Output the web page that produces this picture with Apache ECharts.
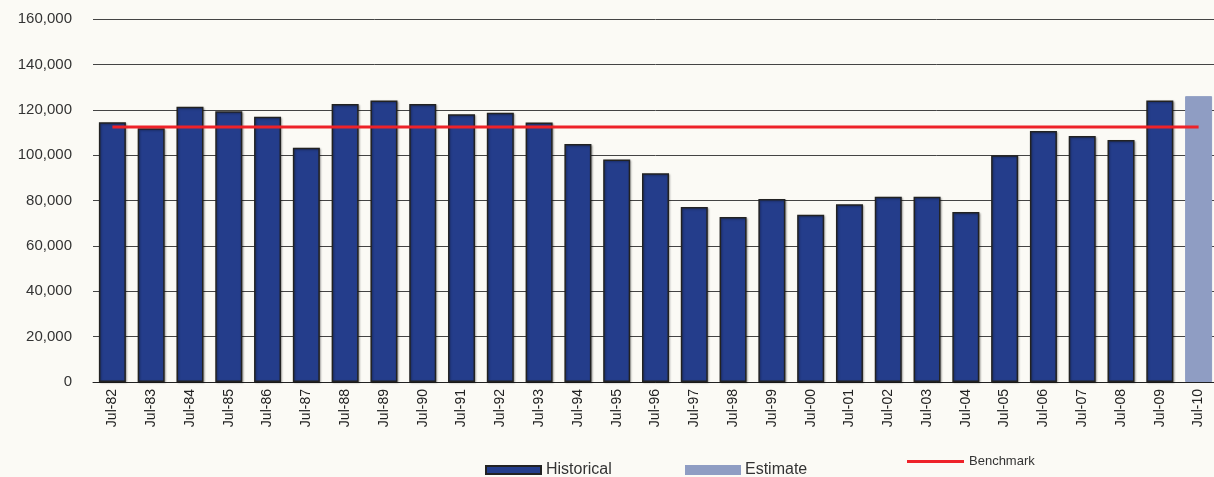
<!DOCTYPE html>
<html>
<head>
<meta charset="utf-8">
<script src="https://cdn.jsdelivr.net/npm/echarts@6/dist/echarts.min.js"></script>
<style>
  html, body { margin: 0; padding: 0; background: #fbfaf5; overflow: hidden; }
  /* the plot runs slightly past the right edge in the original, so the canvas is a bit wider */
  #chart { width: 1224px; height: 477px; }
</style>
</head>
<body>
<div id="chart"></div>
<script>
// categories
const years = ['Jul-82', 'Jul-83', 'Jul-84', 'Jul-85', 'Jul-86', 'Jul-87', 'Jul-88', 'Jul-89', 'Jul-90', 'Jul-91',
  'Jul-92', 'Jul-93', 'Jul-94', 'Jul-95', 'Jul-96', 'Jul-97', 'Jul-98', 'Jul-99', 'Jul-00', 'Jul-01',
  'Jul-02', 'Jul-03', 'Jul-04', 'Jul-05', 'Jul-06', 'Jul-07', 'Jul-08', 'Jul-09', 'Jul-10']
// historical values (last year is an estimate)
const historical = [114500, 111800, 121300, 119300, 116900, 103300, 122500, 124100, 122500, 118000,
  118700, 114400, 104900, 98100, 92000, 77100, 72700, 80700, 73700, 78400,
  81700, 81600, 74900, 99900, 110600, 108400, 106700, 124100, '-']
const estimate = ['-', '-', '-', '-', '-', '-', '-', '-', '-', '-',
  '-', '-', '-', '-', '-', '-', '-', '-', '-', '-',
  '-', '-', '-', '-', '-', '-', '-', '-', 126000]
const benchmarkValue = 112400
const benchmark = years.map(() => benchmarkValue)

const myChart = echarts.init(document.getElementById('chart'))
const option = {
  backgroundColor: '#fbfaf5',
  animation: false,
  textStyle: { fontFamily: 'Liberation Sans, Arial, sans-serif' },
  grid: { left: 93, right: 6, top: 19, bottom: 95 },
  legend: [
    {
      data: [{ name: 'Historical', icon: 'rect' }],
      left: 485, top: 462, padding: 0,
      itemWidth: 55, itemHeight: 8, itemGap: 6,
      textStyle: { fontSize: 16, color: '#333' }
    },
    {
      data: [{ name: 'Estimate', icon: 'rect' }],
      left: 685, top: 462, padding: 0,
      itemWidth: 54, itemHeight: 8, itemGap: 6,
      textStyle: { fontSize: 16, color: '#333' }
    },
    {
      data: [{ name: 'Benchmark', icon: 'rect' }],
      left: 907, top: 455, padding: 0,
      itemWidth: 57, itemHeight: 3, itemGap: 6,
      textStyle: { fontSize: 13, color: '#333' }
    }
  ],
  xAxis: {
    type: 'category',
    data: years,
    axisLine: { lineStyle: { color: '#222', width: 1 } },
    axisTick: { show: false },
    axisLabel: { rotate: 90, fontSize: 14, color: '#222', margin: 7, interval: 0 }
  },
  yAxis: {
    type: 'value',
    min: 0, max: 160000, interval: 20000,
    axisLine: { show: false },
    axisTick: { show: false },
    splitLine: { lineStyle: { color: '#444', width: 1 } },
    axisLabel: {
      fontSize: 15, color: '#333', margin: 21,
      formatter: v => v.toLocaleString('en-US')
    }
  },
  series: [
    {
      name: 'Historical',
      type: 'bar',
      data: historical,
      barWidth: 27,
      barGap: '-100%',
      itemStyle: {
        color: '#243d8b', borderColor: '#222', borderWidth: 1.5,
        shadowColor: 'rgba(0,0,0,0.3)', shadowBlur: 2, shadowOffsetX: 1, shadowOffsetY: 1
      }
    },
    {
      name: 'Estimate',
      type: 'bar',
      data: estimate,
      barWidth: 27,
      barGap: '-100%',
      itemStyle: { color: '#8f9dc3', borderColor: '#8f9dc3', borderWidth: 1 }
    },
    {
      name: 'Benchmark',
      type: 'line',
      data: benchmark,
      symbol: 'none',
      lineStyle: { color: '#ee2229', width: 3 },
      itemStyle: { color: '#ee2229' },
      z: 5
    }
  ]
}
myChart.setOption(option)
</script>
</body>
</html>
